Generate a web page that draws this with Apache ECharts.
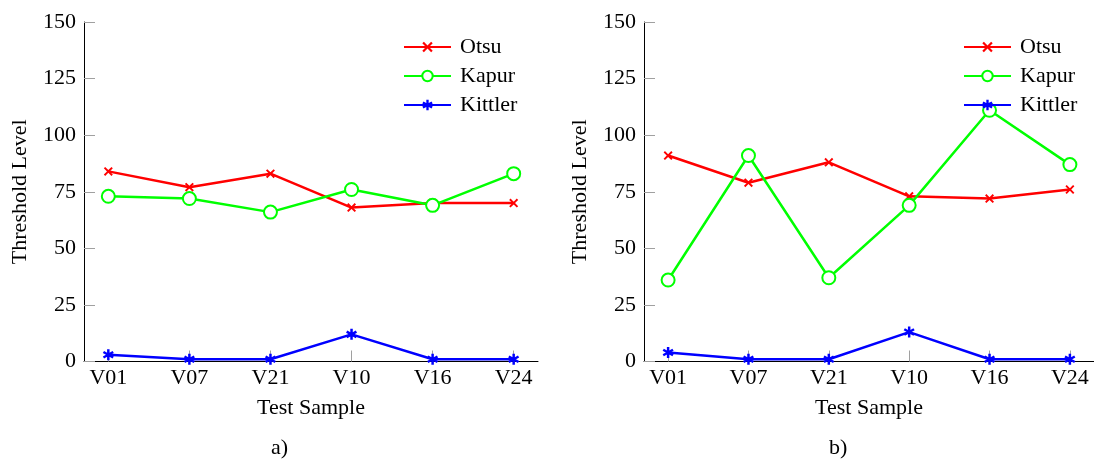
<!DOCTYPE html>
<html>
<head>
<meta charset="utf-8">
<script src="https://cdn.jsdelivr.net/npm/echarts@6/dist/echarts.min.js"></script>
<style>
  html, body { margin: 0; padding: 0; background: #fff; }
  #wrap { display: flex; width: 1094px; height: 461px; }
  #chartA { width: 560px; height: 461px; }
  #chartB { width: 534px; height: 461px; }
</style>
</head>
<body>
<div id="wrap"><div id="chartA"></div><div id="chartB"></div></div>
<script>
// categories + values
const samples = ['V01', 'V07', 'V21', 'V10', 'V16', 'V24']
const sampleIdx = [0, 1, 2, 3, 4, 5]

const otsuA = [84, 77, 83, 68, 70, 70]
const kapurA = [73, 72, 66, 76, 69, 83]
const kittlerA = [3, 1, 1, 12, 1, 1]

const otsuB = [91, 79, 88, 73, 72, 76]
const kapurB = [36, 91, 37, 69, 111, 87]
const kittlerB = [4, 1, 1, 13, 1, 1]

const FONT = 'Liberation Serif, serif'
const FS = 22

// pgfplots-like marks (x and asterisk)
const markCross = 'path://M0,1.5 L1.5,0 L5,3.5 L8.5,0 L10,1.5 L6.5,5 L10,8.5 L8.5,10 L5,6.5 L1.5,10 L0,8.5 L3.5,5 Z'
const markStar =
  'path://M3.9,0 L6.1,0 L6.1,10 L3.9,10 Z ' +
  'M0.12,3.453 L1.22,1.547 L9.88,6.547 L8.78,8.453 Z ' +
  'M8.78,1.547 L9.88,3.453 L1.22,8.453 L0.12,6.547 Z'

function pairs(vals) {
  return vals.map((v, i) => [sampleIdx[i], v])
}

function line(name, vals, color, symbol, size, extra) {
  return {
    name,
    type: 'line',
    data: pairs(vals),
    symbol,
    symbolSize: size,
    lineStyle: { color, width: 2.5 },
    itemStyle: Object.assign({ color }, extra || {}),
    emphasis: { disabled: true },
    animation: false,
  }
}

function option(otsu, kapur, kittler, caption, capLeft) {
  return {
    backgroundColor: '#fff',
    textStyle: { fontFamily: FONT, color: '#000' },
    grid: { left: 84, top: 22, width: 454, height: 339.5 },
    legend: {
      orient: 'vertical',
      left: 403,
      top: 36,
      padding: 0,
      itemWidth: 47,
      itemHeight: 13,
      itemGap: 7,
      textStyle: { fontFamily: FONT, fontSize: FS, lineHeight: 22, color: '#000', padding: [0, 0, 0, 4] },
      data: ['Otsu', 'Kapur', 'Kittler'],
    },
    xAxis: {
      type: 'value',
      min: -0.3,
      max: 5.3,
      name: 'Test Sample',
      nameLocation: 'middle',
      nameGap: 36,
      nameTextStyle: { fontFamily: FONT, fontSize: FS, color: '#000' },
      axisLine: { onZero: false, lineStyle: { color: '#000', width: 1 } },
      axisTick: { inside: true, length: 11, customValues: sampleIdx, lineStyle: { color: '#a0a0a0' } },
      axisLabel: {
        customValues: sampleIdx,
        formatter: (v) => samples[Math.round(v)],
        fontFamily: FONT, fontSize: FS, color: '#000', margin: 6,
      },
      splitLine: { show: false },
    },
    yAxis: {
      type: 'value',
      min: 0,
      max: 150,
      interval: 25,
      name: 'Threshold Level',
      nameLocation: 'middle',
      nameGap: 53,
      nameTextStyle: { fontFamily: FONT, fontSize: FS, color: '#000' },
      axisLine: { show: true, onZero: false, lineStyle: { color: '#000', width: 1 } },
      axisTick: { show: true, inside: true, length: 11, lineStyle: { color: '#a0a0a0' } },
      axisLabel: { fontFamily: FONT, fontSize: FS, color: '#000', margin: 8 },
      splitLine: { show: false },
    },
    graphic: [
      {
        type: 'text',
        left: capLeft,
        top: 437,
        style: { text: caption, font: FS + 'px ' + FONT, fill: '#000' },
      },
    ],
    series: [
      line('Otsu', otsu, '#ff0000', markCross, 9),
      line('Kapur', kapur, '#00ff00', 'emptyCircle', 13, { borderWidth: 2.5 }),
      line('Kittler', kittler, '#0000ff', markStar, 11),
    ],
  }
}

const chartA = echarts.init(document.getElementById('chartA'))
chartA.setOption(option(otsuA, kapurA, kittlerA, 'a)', 271))

const chartB = echarts.init(document.getElementById('chartB'))
chartB.setOption(option(otsuB, kapurB, kittlerB, 'b)', 269))
</script>
</body>
</html>
